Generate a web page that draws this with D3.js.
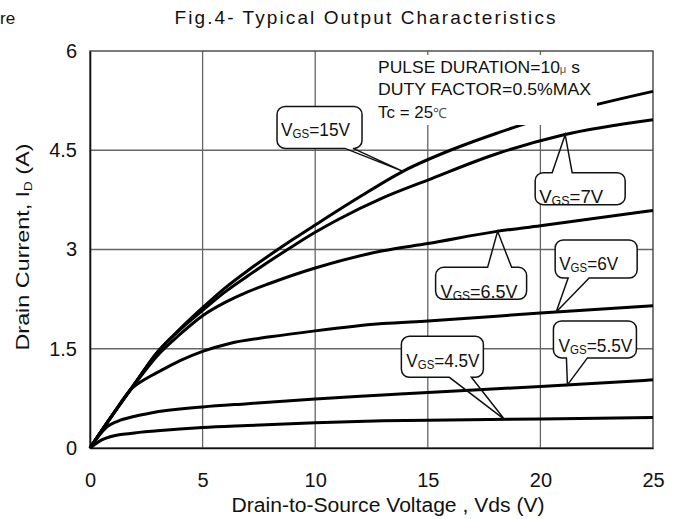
<!DOCTYPE html>
<html>
<head>
<meta charset="utf-8">
<script src="https://cdn.jsdelivr.net/npm/d3@7"></script>
<style>
  body { margin: 0; background: #fff; }
  svg text { font-family: "Liberation Sans", Arial, sans-serif; fill: #111; }
</style>
</head>
<body>
<svg id="chart" width="686" height="519"></svg>
<script>
// --- Datos ---
const vdsTicks = [0, 5, 10, 15, 20, 25];
const idTicks = [0, 1.5, 3, 4.5, 6];

// curvas [Vds (V), Id (A)] para cada Vgs
const curve15V = [[0,0],[1,0.5],[2,0.98],[3,1.45],[4,1.8],[5,2.12],[6,2.42],[7,2.68],[8,2.92],[9,3.15],[10,3.37],[12,3.8],[14,4.2],[16,4.5],[18,4.75],[20,4.97],[22,5.15],[25,5.39]];
const curve7V = [[0,0],[1,0.5],[2,0.98],[3,1.45],[4,1.79],[5,2.08],[6,2.36],[7,2.6],[8,2.83],[9,3.05],[10,3.26],[11,3.45],[13,3.78],[15,4.05],[18,4.44],[21,4.73],[25,4.96]];
const curve6_5V = [[0,0],[1,0.5],[2,0.97],[3,1.4],[4,1.72],[5,2.0],[6,2.2],[7,2.36],[8,2.49],[10,2.72],[13,2.98],[15,3.09],[18,3.27],[20,3.36],[25,3.59]];
const curve6V = [[0,0],[1,0.5],[1.8,0.88],[2.5,1.05],[3.2,1.18],[4,1.32],[5,1.46],[6.2,1.58],[8,1.68],[10,1.77],[13,1.88],[15,1.92],[20,2.04],[25,2.15]];
const curve5_5V = [[0,0],[0.8,0.33],[1.2,0.4],[2,0.48],[2.7,0.53],[5,0.62],[7,0.67],[10,0.74],[13,0.8],[15,0.84],[20,0.93],[25,1.03]];
const curve4_5V = [[0,0],[0.5,0.12],[0.9,0.17],[1.8,0.22],[3,0.26],[5,0.31],[7,0.34],[10,0.38],[13,0.41],[15,0.42],[20,0.44],[25,0.46]];

const vgsLabels = ['15V', '7V', '6.5V', '6V', '5.5V', '4.5V'];
// Vds donde apunta cada globo
const calloutVds = [13.9, 21.1, 18.1, 20.7, 21.2, 18.4];

const infoLines = ['PULSE DURATION=10', 'DUTY FACTOR=0.5%MAX', 'Tc = 25'];

// --- Layout ---
const svg = d3.select('#chart');
const margin = { left: 90, right: 33, top: 51, bottom: 71 };
const W = 686, H = 519;

const x = d3.scaleLinear().domain([0, 25]).range([margin.left, W - margin.right]);
const y = d3.scaleLinear().domain([0, 6]).range([H - margin.bottom, margin.top]);

// rejilla
const grid = svg.append('g');
grid.selectAll('.vg').data(vdsTicks.slice(1, -1)).enter().append('line')
  .attr('x1', d => x(d)).attr('x2', d => x(d))
  .attr('y1', y(0)).attr('y2', y(6))
  .attr('stroke', '#666').attr('stroke-width', 1.3);
grid.selectAll('.hg').data(idTicks.slice(1, -1)).enter().append('line')
  .attr('x1', x(0)).attr('x2', x(25))
  .attr('y1', d => y(d)).attr('y2', d => y(d))
  .attr('stroke', '#666').attr('stroke-width', 1.3);

// marco
svg.append('rect')
  .attr('x', x(0)).attr('y', y(6))
  .attr('width', x(25) - x(0)).attr('height', y(0) - y(6))
  .attr('fill', 'none').attr('stroke', '#444').attr('stroke-width', 1.4);

// ejes
const xAxis = svg.append('g')
  .attr('transform', `translate(0,${y(0)})`)
  .call(d3.axisBottom(x).tickValues(vdsTicks).tickSize(0).tickPadding(25).tickFormat(d3.format('d')));
xAxis.select('.domain').attr('stroke', '#111').attr('stroke-width', 1.6);
xAxis.selectAll('text').attr('font-size', 20).attr('font-family', null).attr('fill', '#111');

const yAxis = svg.append('g')
  .attr('transform', `translate(${x(0)},0)`)
  .call(d3.axisLeft(y).tickValues(idTicks).tickSize(0).tickPadding(13).tickFormat(d => d));
yAxis.select('.domain').attr('stroke', '#111').attr('stroke-width', 1.6);
yAxis.selectAll('text').attr('font-size', 20).attr('font-family', null).attr('fill', '#111');

// curvas
const curves = [curve15V, curve7V, curve6_5V, curve6V, curve5_5V, curve4_5V];
const line = d3.line().x(d => x(d[0])).y(d => y(d[1])).curve(d3.curveMonotoneX);
svg.append('g').selectAll('path').data(curves).enter().append('path')
  .attr('d', line)
  .attr('fill', 'none').attr('stroke', '#000').attr('stroke-width', 3);

// cuadro de condiciones (tapa rejilla y curvas)
svg.append('rect')
  .attr('x', 375).attr('y', 55).attr('width', 222).attr('height', 70)
  .attr('fill', '#fff');
const info = svg.append('g').attr('font-size', 17);
const l1 = info.append('text').attr('x', 378).attr('y', 73).attr('textLength', 202).attr('lengthAdjust', 'spacingAndGlyphs');
l1.append('tspan').text(infoLines[0]);
l1.append('tspan').attr('font-size', 11).attr('fill', '#555').text('μ');
l1.append('tspan').text(' s');
info.append('text').attr('x', 378).attr('y', 95).attr('textLength', 213).attr('lengthAdjust', 'spacingAndGlyphs').text(infoLines[1]);
const l3 = info.append('text').attr('x', 378).attr('y', 118).attr('textLength', 69).attr('lengthAdjust', 'spacingAndGlyphs');
l3.append('tspan').text(infoLines[2]);
l3.append('tspan').attr('font-size', 14).attr('fill', '#555').text('℃');

// globos
function interp(curve, v) {
  for (let i = 1; i < curve.length; i++) {
    if (v <= curve[i][0]) {
      const [x0, y0] = curve[i - 1], [x1, y1] = curve[i];
      return y0 + (y1 - y0) * (v - x0) / (x1 - x0);
    }
  }
  return curve[curve.length - 1][1];
}

// posición de cada globo respecto a su punta (px)
const calloutBox = [
  { box: [-126, -65, -41, -23], side: 'bottom', base: [-58, -50], text: [-122, -35], len: 69 },
  { box: [-30, 38, 60, 70], side: 'top', base: [-13, 7], text: [-26, 68], len: 64 },
  { box: [-62, 36, 29, 68], side: 'top', base: [-10, 14], text: [-57, 67], len: 77 },
  { box: [-1, -72, 81, -34], side: 'bottom', base: [12, 33], text: [3, -42], len: 59 },
  { box: [-14, -64, 69, -27], side: 'bottom', base: [-1, 20], text: [-9, -33], len: 74 },
  { box: [-103, -83, -21, -42], side: 'bottom', base: [-55, -33], text: [-98, -52], len: 73 }
];

function roundedBox(p, x0, y0, x1, y1, r) {
  p.moveTo(x0 + r, y0);
  p.lineTo(x1 - r, y0);
  p.arcTo(x1, y0, x1, y0 + r, r);
  p.lineTo(x1, y1 - r);
  p.arcTo(x1, y1, x1 - r, y1, r);
  p.lineTo(x0 + r, y1);
  p.arcTo(x0, y1, x0, y1 - r, r);
  p.lineTo(x0, y0 + r);
  p.arcTo(x0, y0, x0 + r, y0, r);
  p.closePath();
}

function calloutPath(tx, ty, c) {
  const r = 8;
  const x0 = tx + c.box[0], y0 = ty + c.box[1], x1 = tx + c.box[2], y1 = ty + c.box[3];
  const b0 = tx + c.base[0], b1 = tx + c.base[1];
  const p = d3.path();
  p.moveTo(x0 + r, y0);
  if (c.side === 'top') { p.lineTo(b0, y0); p.lineTo(tx, ty); p.lineTo(b1, y0); }
  p.lineTo(x1 - r, y0);
  p.arcTo(x1, y0, x1, y0 + r, r);
  p.lineTo(x1, y1 - r);
  p.arcTo(x1, y1, x1 - r, y1, r);
  if (c.side === 'bottom') { p.lineTo(b1, y1); p.lineTo(tx, ty); p.lineTo(b0, y1); }
  p.lineTo(x0 + r, y1);
  p.arcTo(x0, y1, x0, y1 - r, r);
  p.lineTo(x0, y0 + r);
  p.arcTo(x0, y0, x0 + r, y0, r);
  p.closePath();
  return p.toString();
}

const callouts = svg.append('g');
vgsLabels.forEach((lab, i) => {
  const c = calloutBox[i];
  const tx = x(calloutVds[i]);
  const ty = y(interp(curves[i], calloutVds[i]));
  // fondo blanco solo en la caja, la punta queda transparente
  const bg = d3.path();
  roundedBox(bg, tx + c.box[0], ty + c.box[1], tx + c.box[2], ty + c.box[3], 8);
  callouts.append('path').attr('d', bg.toString()).attr('fill', '#fff');
  callouts.append('path')
    .attr('d', calloutPath(tx, ty, c))
    .attr('fill', 'none').attr('stroke', '#111').attr('stroke-width', 1.5);
  const t = callouts.append('text')
    .attr('x', tx + c.text[0]).attr('y', ty + c.text[1])
    .attr('font-size', 18)
    .attr('textLength', c.len).attr('lengthAdjust', 'spacingAndGlyphs');
  t.append('tspan').text('V');
  t.append('tspan').attr('font-size', 12).attr('dy', 2).text('GS');
  t.append('tspan').attr('dy', -2).text('=' + lab);
});

// títulos
svg.append('text').attr('x', 0).attr('y', 24).attr('font-size', 17).text('re');
svg.append('text').attr('x', 365).attr('y', 24).attr('font-size', 19)
  .attr('text-anchor', 'middle').attr('textLength', 381).attr('lengthAdjust', 'spacing')
  .text('Fig.4- Typical Output Characteristics');

svg.append('text').attr('x', 388).attr('y', 512).attr('font-size', 20)
  .attr('text-anchor', 'middle').attr('textLength', 313).attr('lengthAdjust', 'spacingAndGlyphs')
  .text('Drain-to-Source Voltage , Vds (V)');

const yl = svg.append('text')
  .attr('transform', 'translate(29,247) rotate(-90)')
  .attr('font-size', 19).attr('text-anchor', 'middle')
  .attr('textLength', 207).attr('lengthAdjust', 'spacingAndGlyphs');
yl.append('tspan').text('Drain Current, I');
yl.append('tspan').attr('font-size', 11).attr('dy', 3).text('D');
yl.append('tspan').attr('dy', -3).text(' (A)');
</script>
</body>
</html>
